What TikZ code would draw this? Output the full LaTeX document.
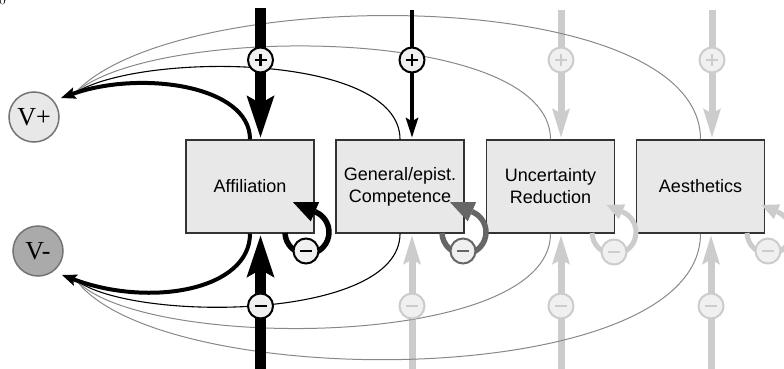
\documentclass[tikz,border=0pt]{standalone}
\usepackage{fontspec}
\setmainfont{Liberation Sans}
\newfontfamily\serf{Liberation Serif}
\newfontfamily\lmr{Latin Modern Roman}
\usetikzlibrary{arrows.meta}
\definecolor{boxfill}{HTML}{E8E8E8}
\definecolor{lite}{HTML}{CCCCCC}
\definecolor{dkg}{HTML}{666666}
\definecolor{curveg}{HTML}{888888}
\definecolor{vminus}{HTML}{AAAAAA}
\definecolor{signfill}{HTML}{F0F0F0}
\begin{document}
\begin{tikzpicture}[x=1pt,y=-1pt,
  box/.style={draw=black!80, line width=1.3pt, fill=boxfill, minimum width=128pt,
    minimum height=93pt, inner sep=0pt, align=center, font=\fontsize{18}{22}\selectfont},
  vnode/.style={circle, draw=black!55, line width=1.5pt, minimum size=50pt,
    inner sep=0pt, font=\serf\fontsize{26}{26}\selectfont},
  sgn/.style={circle, draw=#1, fill=signfill, line width=2pt, minimum size=25pt, inner sep=0pt},
  plusmark/.style={sgn=#1, path picture={\draw[#1, line width=2.6pt]
    ([xshift=-6pt]path picture bounding box.center) -- ([xshift=6pt]path picture bounding box.center)
    ([yshift=-6pt]path picture bounding box.center) -- ([yshift=6pt]path picture bounding box.center);}},
  minusmark/.style={sgn=#1, path picture={\draw[#1, line width=2.6pt]
    ([xshift=-6pt]path picture bounding box.center) -- ([xshift=6pt]path picture bounding box.center);}},
  bigK/.style={line width=11pt, -{Stealth[length=42pt,width=28pt,inset=8pt,line width=0pt]}},
  medK/.style={line width=4pt, -{Stealth[length=20pt,width=13pt,inset=4pt,line width=0pt]}},
  bigL/.style={lite, line width=7pt, -{Stealth[length=29pt,width=18pt,inset=5pt,line width=0pt]}},
  thk/.style={line width=4pt},
  thnK/.style={line width=1.1pt},
  thnG/.style={curveg, line width=1pt},
  vtip/.style={-{Stealth[length=15pt,width=12pt,inset=3pt,line width=0pt]}},
  loopK/.style={line width=5.5pt, -{Triangle[length=24pt,width=21pt,line width=0pt]}},
  loopG/.style={dkg, line width=5.5pt, -{Triangle[length=24pt,width=21pt,line width=0pt]}},
  loopL/.style={lite, line width=5pt, -{Triangle[length=17pt,width=16pt,line width=0pt]}}
]
\useasboundingbox (0,0) rectangle (784,369);

% stray fragment at the top-left corner
\node[anchor=base west, inner sep=0pt, font=\lmr\fontsize{14}{14}\selectfont] (frag) at (-1,4.5) {0};

% boxes
\node[box] (aff) at (250,186.5) {Affiliation};
\node[box] (gen) at (400,186.5) {General/epist.\\Competence};
\node[box] (unc) at (550.5,186.5) {Uncertainty\\Reduction};
\node[box] (aes) at (700.5,186.5) {Aesthetics};

% valence nodes
\node[vnode, fill=boxfill] (vp) at (34,117) {V+};
\node[vnode, fill=vminus] (vm) at (38,251) {V-};

% coordinates for converging arrow heads
\coordinate (vpt) at (61,98);
\coordinate (vpb) at (75,93);
\coordinate (vmt) at (62,275);
\coordinate (vmb) at (76,280);

% free ends of vertical arrows
\coordinate (tA) at (260.5,8);
\coordinate (tG) at (412,10);
\coordinate (tU) at (561,10);
\coordinate (tE) at (712,10);
\coordinate (bA) at (260.5,375);
\coordinate (bG) at (412,375);
\coordinate (bU) at (561,375);
\coordinate (bE) at (711,375);

% light vertical arrows
\draw[bigL, shorten >=2pt] (tU) -- (tU |- unc.north);
\draw[bigL, shorten >=2pt] (tE) -- (tE |- aes.north);
\draw[bigL, shorten >=2pt] (bG) -- (bG |- gen.south);
\draw[bigL, shorten >=2pt] (bU) -- (bU |- unc.south);
\draw[bigL, shorten >=2pt] (bE) -- (bE |- aes.south);

% curves to V+
\draw[thnG] (aes.north) .. controls (700.5,-17) and (176,-17) .. (vpb);
\draw[thnG] (unc.north) .. controls (550.5,24) and (153,24) .. (vpb);
\draw[thnK] (gen.north) .. controls (400,52) and (139,52) .. (vpb);
\draw[thk, vtip] (aff.north) .. controls (250,85) and (140,70) .. (vpt);

% curves to V-
\draw[thnG] (aes.south) .. controls (700.5,393) and (160,393) .. (vmb);
\draw[thnG] (unc.south) .. controls (550.5,351) and (140,351) .. (vmb);
\draw[thnK] (gen.south) .. controls (400,322) and (130,322) .. (vmb);
\draw[thk, vtip] (aff.south) .. controls (250,290) and (150,308) .. (vmt);

% black vertical arrows
\draw[bigK, shorten >=2pt] (tA) -- (tA |- aff.north);
\draw[bigK, shorten >=2pt] (bA) -- (bA |- aff.south);
\draw[medK, shorten >=2pt] (tG) -- (tG |- gen.north);

% self loops
\draw[loopK] (285,233) arc[start angle=178, end angle=-66, radius=22] -- ++(-23,-10);
\draw[loopG] (442,233) arc[start angle=178, end angle=-66, radius=22] -- ++(-23,-10);
\draw[loopL] (592,233) arc[start angle=178, end angle=-66, radius=22] -- ++(-16.5,-7.2);
\draw[loopL] (747,233) arc[start angle=178, end angle=-66, radius=22] -- ++(-16.5,-7.2);

% signs on vertical arrows
\node[plusmark=black] (pA) at (260.5,60) {};
\node[plusmark=black] (pG) at (412,60) {};
\node[plusmark=lite] (pU) at (561,60) {};
\node[plusmark=lite] (pE) at (712,60) {};
\node[minusmark=black] (mA) at (260.5,306) {};
\node[minusmark=lite] (mG) at (412,306) {};
\node[minusmark=lite] (mU) at (561,306) {};
\node[minusmark=lite] (mE) at (711,306) {};

% signs on self loops
\node[minusmark=black] (lA) at (306,251) {};
\node[minusmark=dkg] (lG) at (463,251) {};
\node[minusmark=lite] (lU) at (614,252) {};
\node[minusmark=lite] (lE) at (768,251) {};
\end{tikzpicture}
\end{document}
